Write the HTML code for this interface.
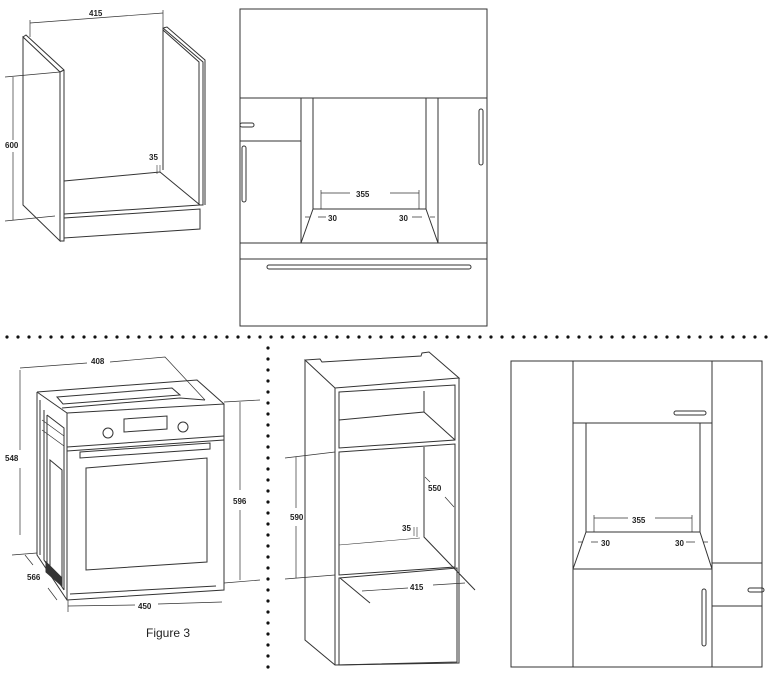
<!DOCTYPE html>
<html><head><meta charset="utf-8"><style>
html,body{margin:0;padding:0;background:#fff;}
svg{display:block;}
text{font-family:"Liberation Sans",sans-serif;font-size:8px;fill:#222;font-weight:bold;}
</style></head><body>
<svg width="768" height="675" viewBox="0 0 768 675" xmlns="http://www.w3.org/2000/svg">
<g fill="none" stroke="#333" stroke-width="1">
<!-- ===== top-left cabinet ===== -->
<path d="M23,37 L60,72 L60,241 L23,205 Z"/>
<path d="M23,37 L26,35 L64,70 L64,241 L60,241"/>
<path d="M60,72 L64,70"/>
<path d="M163,28 L203,62 L203,205 L199,205 L199,62 L163,30 Z"/>
<path d="M163,28 L167,27 L205,60 L205,205"/>
<path d="M163,30 L163,170"/>
<path d="M64,181 L160,172 L200,205"/>
<path d="M64,214 L200,205"/>
<path d="M64,218 L200,209 L200,229 L64,238 Z"/>
<!-- dims -->
<path d="M30,23 L163,13" stroke-width="0.7"/>
<path d="M30,20 L30,37 M163,10 L163,27" stroke-width="0.7"/>
<path d="M13,77 L13,140 M13,152 L13,220" stroke-width="0.7"/>
<path d="M5,77 L60,72 M5,221 L55,216" stroke-width="0.7"/>
<path d="M157,165 L157,174 M160,165 L160,172" stroke-width="0.6"/>

<!-- ===== top middle elevation ===== -->
<rect x="240" y="9" width="247" height="317"/>
<path d="M240,98 L487,98"/>
<path d="M301,98 L301,243 M313,98 L313,209 M426,98 L426,209 M438,98 L438,243"/>
<path d="M240,141 L301,141"/>
<path d="M313,209 L426,209 M313,209 L301,243 M426,209 L438,243"/>
<path d="M240,243 L487,243 M240,259 L487,259"/>
<rect x="240" y="123" width="14" height="4" rx="2"/>
<rect x="242" y="146" width="4" height="56" rx="2"/>
<rect x="479" y="109" width="4" height="56" rx="2"/>
<rect x="267" y="265" width="204" height="4" rx="2"/>
<path d="M321,193 L350,193 M390,193 L419,193 M321,190 L321,209 M419,190 L419,209" stroke-width="0.7"/>
<path d="M305,217 L310,217 M318,217 L326,217 M412,217 L422,217 M430,217 L435,217" stroke-width="0.7"/>

<!-- ===== oven ===== -->
<path d="M67,413 L224,404 L224,590 L67,600 Z"/>
<path d="M67,447 L224,436"/>
<path d="M67,451 L224,440"/>
<circle cx="108" cy="433" r="5"/>
<circle cx="183" cy="427" r="5"/>
<path d="M124,419 L167,416 L167,429 L124,432 Z"/>
<path d="M80,452 L210,443 L210,449 L80,458 Z"/>
<path d="M86,468 L207,458 L207,562 L86,570 Z"/>
<path d="M70,594 L216,586"/>
<path d="M37,392 L197,380 L224,404 M37,392 L67,413"/>
<path d="M57,397 L172,388 L180,395 L63,404 Z"/>
<path d="M62,408 L180,398 L205,400"/>
<path d="M37,392 L37,555 L67,600"/>
<path d="M40,400 L40,555 M44,410 L44,560 L64,590"/>
<path d="M47,415 L64,428 L64,590 M47,415 L47,570"/>
<path d="M50,460 L62,470 L62,585 L50,575 Z"/>
<path d="M46,562 L62,578 L62,586 L46,572 Z" fill="#333"/>
<path d="M42,420 L64,436 M42,430 L64,446" stroke-width="0.7"/>
<!-- dims -->
<path d="M20,368 L87,363 M110,362 L165,357 L205,400" stroke-width="0.7"/>
<path d="M20,370 L20,450 M20,468 L20,535" stroke-width="0.7"/>
<path d="M12,555 L37,553" stroke-width="0.7"/>
<path d="M25,555 L33,565 M48,588 L57,600" stroke-width="0.7"/>
<path d="M240,402 L240,490 M240,510 L240,580" stroke-width="0.7"/>
<path d="M224,402 L260,400 M224,583 L260,580" stroke-width="0.7"/>
<path d="M68,606 L135,605 M158,604 L222,602 M68,600 L68,612" stroke-width="0.7"/>

<!-- ===== tall cabinet ===== -->
<path d="M305,360 L335,388 L459,378 L429,352 L422,353 L421,356 L322,362 L320,359 Z"/>
<path d="M305,360 L305,640 L335,665 L459,663 L459,378"/>
<path d="M335,388 L335,665"/>
<path d="M339,392 L455,385 L455,440 L339,448 Z"/>
<path d="M339,420 L424,412 L424,391 M424,412 L455,440"/>
<path d="M339,452 L455,444 L455,567 L339,575 Z"/>
<path d="M424,447 L424,537 L475,590"/>
<path d="M339,545 L420,538" stroke-width="0.6"/>
<path d="M339,578 L457,568 L457,662 L339,665 Z"/>
<path d="M340,578 L370,603"/>
<path d="M296,457 L296,508 M296,526 L296,578" stroke-width="0.7"/>
<path d="M285,458 L335,452 M285,579 L335,575" stroke-width="0.7"/>
<path d="M425,477 L430,482 M445,497 L454,507" stroke-width="0.7"/>
<path d="M362,591 L408,588 M433,585 L465,583" stroke-width="0.7"/>
<path d="M414,527 L414,536 M417,527 L417,537" stroke-width="0.6"/>

<!-- ===== bottom-right elevation ===== -->
<rect x="511" y="361" width="251" height="306"/>
<path d="M573,361 L573,667 M712,361 L712,667"/>
<path d="M573,423 L712,423"/>
<path d="M586,423 L586,532 M700,423 L700,532"/>
<path d="M586,532 L700,532 M586,532 L573,569 M700,532 L712,569 M573,569 L712,569"/>
<path d="M712,563 L762,563 M712,606 L762,606"/>
<rect x="674" y="411" width="32" height="4" rx="2"/>
<rect x="748" y="588" width="16" height="4" rx="2"/>
<rect x="702" y="589" width="4" height="57" rx="2"/>
<path d="M594,518 L628,518 M655,518 L692,518 M594,515 L594,532 M692,515 L692,532" stroke-width="0.7"/>
<path d="M578,542 L583,542 M591,542 L598,542 M686,542 L695,542 M703,542 L708,542" stroke-width="0.7"/>
</g>
<!-- dots -->
<g fill="#111">
<circle cx="7" cy="337" r="1.6"/><circle cx="18" cy="337" r="1.6"/><circle cx="29" cy="337" r="1.6"/><circle cx="40" cy="337" r="1.6"/><circle cx="51" cy="337" r="1.6"/><circle cx="62" cy="337" r="1.6"/><circle cx="73" cy="337" r="1.6"/><circle cx="84" cy="337" r="1.6"/><circle cx="95" cy="337" r="1.6"/><circle cx="106" cy="337" r="1.6"/><circle cx="117" cy="337" r="1.6"/><circle cx="128" cy="337" r="1.6"/><circle cx="139" cy="337" r="1.6"/><circle cx="150" cy="337" r="1.6"/><circle cx="161" cy="337" r="1.6"/><circle cx="172" cy="337" r="1.6"/><circle cx="183" cy="337" r="1.6"/><circle cx="194" cy="337" r="1.6"/><circle cx="205" cy="337" r="1.6"/><circle cx="216" cy="337" r="1.6"/><circle cx="227" cy="337" r="1.6"/><circle cx="238" cy="337" r="1.6"/><circle cx="249" cy="337" r="1.6"/><circle cx="260" cy="337" r="1.6"/><circle cx="271" cy="337" r="1.6"/><circle cx="282" cy="337" r="1.6"/><circle cx="293" cy="337" r="1.6"/><circle cx="304" cy="337" r="1.6"/><circle cx="315" cy="337" r="1.6"/><circle cx="326" cy="337" r="1.6"/><circle cx="337" cy="337" r="1.6"/><circle cx="348" cy="337" r="1.6"/><circle cx="359" cy="337" r="1.6"/><circle cx="370" cy="337" r="1.6"/><circle cx="381" cy="337" r="1.6"/><circle cx="392" cy="337" r="1.6"/><circle cx="403" cy="337" r="1.6"/><circle cx="414" cy="337" r="1.6"/><circle cx="425" cy="337" r="1.6"/><circle cx="436" cy="337" r="1.6"/><circle cx="447" cy="337" r="1.6"/><circle cx="458" cy="337" r="1.6"/><circle cx="469" cy="337" r="1.6"/><circle cx="480" cy="337" r="1.6"/><circle cx="491" cy="337" r="1.6"/><circle cx="502" cy="337" r="1.6"/><circle cx="513" cy="337" r="1.6"/><circle cx="524" cy="337" r="1.6"/><circle cx="535" cy="337" r="1.6"/><circle cx="546" cy="337" r="1.6"/><circle cx="557" cy="337" r="1.6"/><circle cx="568" cy="337" r="1.6"/><circle cx="579" cy="337" r="1.6"/><circle cx="590" cy="337" r="1.6"/><circle cx="601" cy="337" r="1.6"/><circle cx="612" cy="337" r="1.6"/><circle cx="623" cy="337" r="1.6"/><circle cx="634" cy="337" r="1.6"/><circle cx="645" cy="337" r="1.6"/><circle cx="656" cy="337" r="1.6"/><circle cx="667" cy="337" r="1.6"/><circle cx="678" cy="337" r="1.6"/><circle cx="689" cy="337" r="1.6"/><circle cx="700" cy="337" r="1.6"/><circle cx="711" cy="337" r="1.6"/><circle cx="722" cy="337" r="1.6"/><circle cx="733" cy="337" r="1.6"/><circle cx="744" cy="337" r="1.6"/><circle cx="755" cy="337" r="1.6"/><circle cx="766" cy="337" r="1.6"/>
<circle cx="268" cy="348" r="1.6"/><circle cx="268" cy="359" r="1.6"/><circle cx="268" cy="370" r="1.6"/><circle cx="268" cy="381" r="1.6"/><circle cx="268" cy="392" r="1.6"/><circle cx="268" cy="403" r="1.6"/><circle cx="268" cy="414" r="1.6"/><circle cx="268" cy="425" r="1.6"/><circle cx="268" cy="436" r="1.6"/><circle cx="268" cy="447" r="1.6"/><circle cx="268" cy="458" r="1.6"/><circle cx="268" cy="469" r="1.6"/><circle cx="268" cy="480" r="1.6"/><circle cx="268" cy="491" r="1.6"/><circle cx="268" cy="502" r="1.6"/><circle cx="268" cy="513" r="1.6"/><circle cx="268" cy="524" r="1.6"/><circle cx="268" cy="535" r="1.6"/><circle cx="268" cy="546" r="1.6"/><circle cx="268" cy="557" r="1.6"/><circle cx="268" cy="568" r="1.6"/><circle cx="268" cy="579" r="1.6"/><circle cx="268" cy="590" r="1.6"/><circle cx="268" cy="601" r="1.6"/><circle cx="268" cy="612" r="1.6"/><circle cx="268" cy="623" r="1.6"/><circle cx="268" cy="634" r="1.6"/><circle cx="268" cy="645" r="1.6"/><circle cx="268" cy="656" r="1.6"/><circle cx="268" cy="667" r="1.6"/>
</g>
<!-- labels -->
<text x="89" y="16">415</text>
<text x="5" y="148">600</text>
<text x="149" y="160">35</text>
<text x="356" y="197">355</text>
<text x="328" y="221">30</text>
<text x="399" y="221">30</text>
<text x="91" y="364">408</text>
<text x="5" y="461">548</text>
<text x="27" y="580">566</text>
<text x="233" y="504">596</text>
<text x="138" y="609">450</text>
<text x="146" y="637" style="font-weight:normal;font-size:12px">Figure 3</text>
<text x="290" y="520">590</text>
<text x="428" y="491">550</text>
<text x="402" y="531">35</text>
<text x="410" y="590">415</text>
<text x="632" y="523">355</text>
<text x="601" y="546">30</text>
<text x="675" y="546">30</text>
</svg>
</body></html>
